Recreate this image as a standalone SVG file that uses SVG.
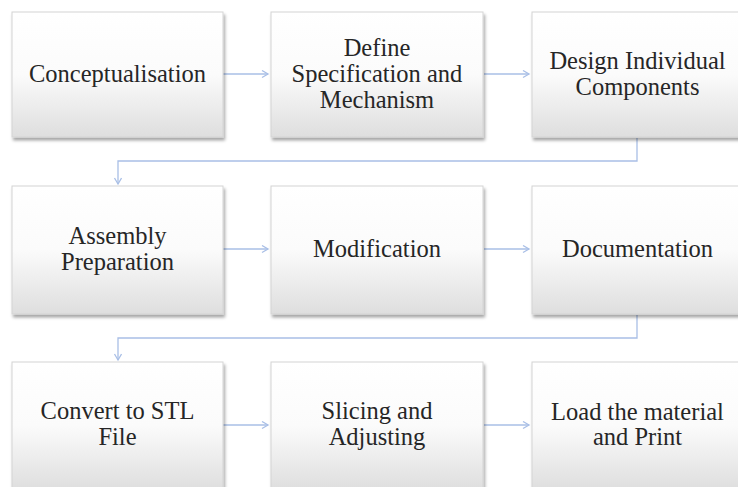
<svg xmlns="http://www.w3.org/2000/svg" width="738" height="487" viewBox="0 0 738 487">
<style>
.box{fill:url(#g);stroke:#d4d4d4;stroke-width:1;filter:url(#sh)}
.t{font-family:'Liberation Serif','Times New Roman',Times,'DejaVu Serif',serif;font-size:24.5px;fill:#262626;text-anchor:middle}
.c{fill:none;stroke:#a9bfe6;stroke-width:1.3}
.a{marker-end:url(#ar)}
</style>
<defs>
<linearGradient id="g" x1="0" y1="0" x2="0" y2="1">
<stop offset="0" stop-color="#ffffff"/>
<stop offset="0.5" stop-color="#fbfbfb"/>
<stop offset="1" stop-color="#dedede"/>
</linearGradient>
<filter id="sh" x="-10%" y="-10%" width="125%" height="125%">
<feDropShadow dx="1.5" dy="3" stdDeviation="1.5" flood-color="#000" flood-opacity="0.35"/>
</filter>
<marker id="ar" markerWidth="10" markerHeight="10" refX="7" refY="4" orient="auto" markerUnits="userSpaceOnUse">
<path d="M1,0.5 L7,4 L1,7.5" fill="none" stroke="#a9bfe6" stroke-width="1.3"/>
</marker>
</defs>
<rect width="738" height="487" fill="#ffffff"/>
<g id="connectors">
<path class="c a" d="M223,74 H268"/>
<path class="c a" d="M484,74 H529"/>
<path class="c a" d="M637,138 V161 H118 V184"/>
<path class="c a" d="M223,249 H268"/>
<path class="c a" d="M484,249 H529"/>
<path class="c a" d="M637,315 V338 H118 V360"/>
<path class="c a" d="M223,425 H268"/>
<path class="c a" d="M484,425 H529"/>
</g>
<g font-family="Liberation Serif, Times New Roman, serif">
<g id="n1"><rect class="box" x="12" y="12" width="211" height="125"/><text class="t" x="117.5" y="82">Conceptualisation</text></g>
<g id="n2"><rect class="box" x="271" y="12" width="212" height="125"/><text class="t" x="377" y="55.5">Define</text><text class="t" x="377" y="82">Specification and</text><text class="t" x="377" y="108">Mechanism</text></g>
<g id="n3"><rect class="box" x="532" y="12" width="211" height="125"/><text class="t" x="637.5" y="69">Design Individual</text><text class="t" x="637.5" y="95">Components</text></g>
<g id="n4"><rect class="box" x="12" y="186" width="211" height="128"/><text class="t" x="117.5" y="244">Assembly</text><text class="t" x="117.5" y="270">Preparation</text></g>
<g id="n5"><rect class="box" x="271" y="186" width="212" height="128"/><text class="t" x="377" y="257">Modification</text></g>
<g id="n6"><rect class="box" x="532" y="186" width="211" height="128"/><text class="t" x="637.5" y="257">Documentation</text></g>
<g id="n7"><rect class="box" x="12" y="362" width="211" height="128"/><text class="t" x="117.5" y="419">Convert to STL</text><text class="t" x="117.5" y="445">File</text></g>
<g id="n8"><rect class="box" x="271" y="362" width="212" height="128"/><text class="t" x="377" y="419">Slicing and</text><text class="t" x="377" y="445">Adjusting</text></g>
<g id="n9"><rect class="box" x="532" y="362" width="211" height="128"/><text class="t" x="637.5" y="420">Load the material</text><text class="t" x="637.5" y="445">and Print</text></g>
</g>
</svg>
